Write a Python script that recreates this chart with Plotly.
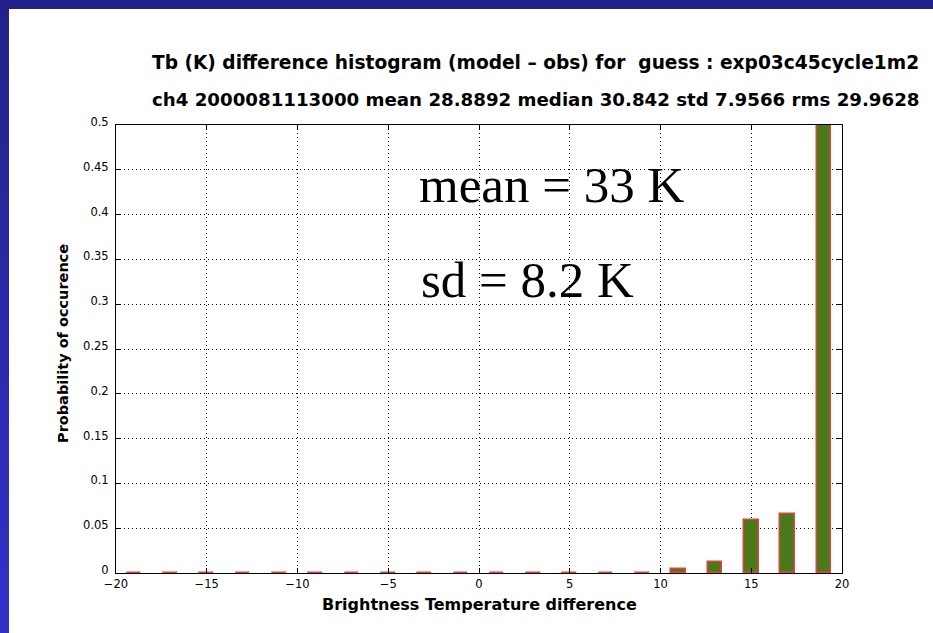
import plotly.graph_objects as go

# ---- data ----
bin_centers = [-19, -17, -15, -13, -11, -9, -7, -5, -3, -1, 1, 3, 5, 7, 9, 11, 13, 15, 17, 19]
probability = [0, 0, 0, 0, 0, 0, 0, 0, 0, 0, 0, 0, 0, 0, 0, 0.004, 0.0126, 0.0588, 0.0655, 0.859]
x_ticks = [-20, -15, -10, -5, 0, 5, 10, 15, 20]
y_ticks = [0, 0.05, 0.1, 0.15, 0.2, 0.25, 0.3, 0.35, 0.4, 0.45, 0.5]
title_line1 = "Tb (K) difference histogram (model \u2013 obs) for  guess : exp03c45cycle1m2"
title_line2 = "ch4 2000081113000 mean 28.8892 median 30.842 std 7.9566 rms 29.9628"
note_mean = "mean = 33 K"
note_sd = "sd = 8.2 K"

W, H = 933, 633
L, R, T, B = 116, 91, 125, 60
PW, PH = W - L - R, H - T - B

def px(xp):
    return (xp - L) / PW

def py(yp):
    return (H - B - yp) / PH

fig = go.Figure()
fig.add_trace(go.Bar(
    x=bin_centers, y=probability, width=0.8,
    marker=dict(color="#4a7a1c", line=dict(color="#e8403c", width=1.5)),
    showlegend=False,
))

shapes = []
# background gradient bands (blue frame)
n = 30
c0, c1 = (0x22, 0x22, 0x8a), (0x32, 0x32, 0xca)
for i in range(n):
    f = i / (n - 1)
    col = "rgb(%d,%d,%d)" % tuple(round(a + (b - a) * f) for a, b in zip(c0, c1))
    shapes.append(dict(type="rect", xref="paper", yref="paper", layer="below",
                       x0=px(0), x1=px(W), y0=py(H * i / n), y1=py(H * (i + 1) / n + 1),
                       fillcolor=col, line=dict(width=0)))
shapes.append(dict(type="rect", xref="paper", yref="paper", layer="below",
                   x0=px(9), x1=px(W + 2), y0=py(9), y1=py(H + 2),
                   fillcolor="white", line=dict(width=0)))

annotations = [
    dict(text=title_line1, xref="paper", yref="paper", x=px(150), y=py(63),
         xanchor="left", yanchor="middle", showarrow=False,
         font=dict(family="DejaVu Sans", size=18.6, color="black", weight="bold")),
    dict(text=title_line2, xref="paper", yref="paper", x=px(150), y=py(99),
         xanchor="left", yanchor="middle", showarrow=False,
         font=dict(family="DejaVu Sans", size=18.2, color="black", weight="bold")),
    dict(text=note_mean, xref="paper", yref="paper", x=px(417), y=py(185),
         xanchor="left", yanchor="middle", showarrow=False,
         font=dict(family="Liberation Serif", size=51, color="black")),
    dict(text=note_sd, xref="paper", yref="paper", x=px(419), y=py(280),
         xanchor="left", yanchor="middle", showarrow=False,
         font=dict(family="Liberation Serif", size=51, color="black")),
    dict(text="Brightness Temperature difference", xref="paper", yref="paper",
         x=px(479), y=py(604), xanchor="center", yanchor="middle", showarrow=False,
         font=dict(family="DejaVu Sans", size=16, color="black", weight="bold")),
    dict(text="Probability of occurence", xref="paper", yref="paper",
         x=px(63), y=py(344), xanchor="center", yanchor="middle", showarrow=False,
         textangle=-90,
         font=dict(family="DejaVu Sans", size=14.5, color="black", weight="bold")),
]

axis_common = dict(
    showline=True, linecolor="black", linewidth=1, mirror="ticks",
    ticks="inside", ticklen=5, tickcolor="black", tickwidth=1,
    showgrid=True, gridcolor="black", gridwidth=1, griddash="1px,3px",
    zeroline=False,
    tickfont=dict(family="DejaVu Sans", size=11.5, color="black"),
)

fig.update_layout(
    width=W, height=H,
    margin=dict(l=L, r=R, t=T, b=B, pad=0),
    paper_bgcolor="#2a2aa8", plot_bgcolor="white",
    xaxis=dict(range=[-20, 20], tickvals=x_ticks, ticklabelstandoff=0, **axis_common),
    yaxis=dict(range=[0, 0.5], tickvals=y_ticks, ticklabelstandoff=4,
               ticklabelshift=-3, **axis_common),
    shapes=shapes, annotations=annotations,
    bargap=0,
)
fig.write_html("out.html", config={"displayModeBar": False},
               post_script="document.body.style.margin='0';document.body.style.overflow='hidden';")
